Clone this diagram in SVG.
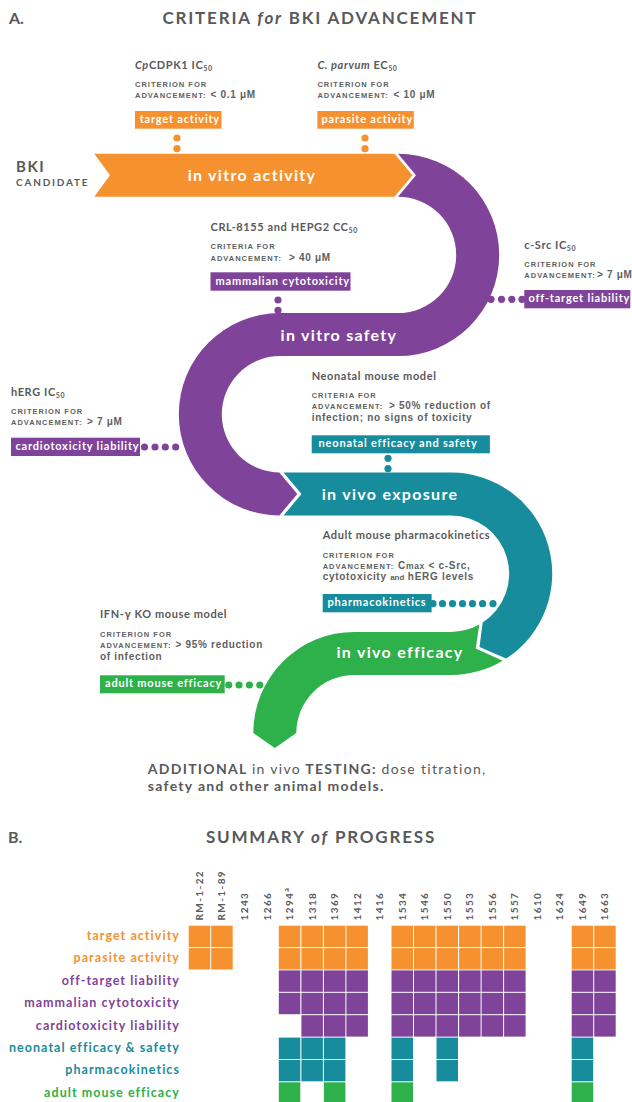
<svg xmlns="http://www.w3.org/2000/svg" xmlns:xlink="http://www.w3.org/1999/xlink" width="632" height="1102" viewBox="0 0 632 1102">
<style>
.t{font-family:Lato,"Open Sans","Liberation Sans",sans-serif;font-weight:bold;fill:#58595B}
.ttl{font-size:17px;letter-spacing:1.8px}
.hd{font-size:11px;letter-spacing:0.6px}
.cr{font-family:"Liberation Sans",Arial,sans-serif;font-weight:bold;font-size:7.5px;letter-spacing:1px;fill:#5E5F61}
.v{font-size:10px;letter-spacing:0.7px}
.lb{font-family:Lato,"Open Sans",sans-serif;font-weight:bold;font-size:11px;letter-spacing:0.8px;fill:#fff}
.bd{font-family:Lato,"Open Sans",sans-serif;font-weight:bold;font-size:16px;letter-spacing:1.3px;fill:#fff;text-anchor:middle}
.cl{font-family:Lato,"Open Sans",sans-serif;font-weight:bold;font-size:10px;letter-spacing:1.4px;fill:#58595B}
.rl{font-family:Lato,"Open Sans",sans-serif;font-weight:bold;font-size:12.5px;letter-spacing:1.05px;text-anchor:end}
.o{fill:#F5922F}.p{fill:#7F4499}.tl{fill:#178C9C}.g{fill:#2EB04B}
</style>
<defs>
<rect id="co" width="21.5" height="21.4" fill="#F5922F"/>
<rect id="cp" width="21.5" height="21.4" fill="#7F4499"/>
<rect id="ct" width="21.5" height="21.4" fill="#178C9C"/>
<rect id="cg" width="21.5" height="21.4" fill="#2EB04B"/>
<circle id="d" r="3.6"/>
</defs>

<text class="t" x="9" y="24" font-size="16">A.</text>
<text class="t ttl" x="320" y="24" text-anchor="middle">CRITERIA <tspan font-style="italic">for</tspan> BKI ADVANCEMENT</text>

<g id="bki-candidate">
<text class="t" x="16" y="172.3" font-size="15" letter-spacing="1.5">BKI</text>
<text class="t" x="16" y="186" font-size="10" letter-spacing="1.8">CANDIDATE</text>
</g>

<g id="n-in-vitro-activity">
<path class="o" d="M94.3,153.7 L394.5,153.7 L412.5,175.2 L394.5,196.7 L94.3,196.7 L110,175.2 Z"/>
<text class="bd" x="252" y="181">in vitro activity</text>
</g>

<g id="n-in-vitro-safety">
<path class="p" d="M398,153.7 A101.2,101.2 0 0 1 398,356.1 L280,356.1 A58.2,58.2 0 0 0 280,472.5 L279.3,472.5 L297.3,494 L279.3,515.5 L280,515.5 A101.2,101.2 0 0 1 280,313.1 L398,313.1 A58.2,58.2 0 0 0 398,196.7 L416,175.2 Z"/>
<text class="bd" x="339" y="340.5">in vitro safety</text>
</g>

<g id="n-in-vivo-exposure">
<path class="tl" d="M283.5,472.5 L451,472.5 A101.2,101.2 0 0 1 506.1,658.6 L479.5,647 L482.7,622.5 A58.2,58.2 0 0 0 451,515.5 L283.5,515.5 L301.5,494 Z"/>
<text class="bd" x="390" y="499.5">in vivo exposure</text>
</g>

<g id="n-in-vivo-efficacy">
<path class="g" d="M502.7,660.8 A101.2,101.2 0 0 1 451,674.9 L354.5,674.9 A58.2,58.2 0 0 0 296.3,733.1 L274.8,748 L253.3,733.1 A101.2,101.2 0 0 1 354.5,631.9 L451,631.9 A58.2,58.2 0 0 0 479.3,624.6 L475.7,648.4 Z"/>
<text class="bd" x="400" y="658">in vivo efficacy</text>
</g>

<g id="connectors">
<g class="o"><use href="#d" x="177" y="138"/><use href="#d" x="177" y="148.7"/><use href="#d" x="365" y="138"/><use href="#d" x="365" y="148.7"/></g>
<g class="p"><use href="#d" x="278" y="300"/><use href="#d" x="278" y="310.3"/>
<use href="#d" x="491" y="299.3"/><use href="#d" x="501.5" y="299.3"/><use href="#d" x="511.8" y="299.3"/><use href="#d" x="522" y="299.3"/>
<use href="#d" x="144.5" y="447"/><use href="#d" x="155" y="447"/><use href="#d" x="165.3" y="447"/><use href="#d" x="175.7" y="447"/></g>
<g class="tl"><use href="#d" x="388" y="458.3"/><use href="#d" x="388" y="468.7"/>
<use href="#d" x="433" y="603.7"/><use href="#d" x="442.5" y="603.7"/><use href="#d" x="452.5" y="603.7"/><use href="#d" x="462.5" y="603.7"/><use href="#d" x="472.5" y="603.7"/><use href="#d" x="482.6" y="603.7"/><use href="#d" x="493" y="603.7"/></g>
<g class="g"><use href="#d" x="228.7" y="685"/><use href="#d" x="239" y="685"/><use href="#d" x="249.4" y="685"/><use href="#d" x="259.8" y="685"/></g>
</g>

<g id="c-target-activity">
<text class="t hd" x="135" y="69.3"><tspan font-style="italic">Cp</tspan>CDPK1 IC<tspan font-size="7" dy="2">50</tspan></text>
<text class="cr" x="135" y="87">CRITERION FOR</text>
<text class="cr" x="135" y="98.3">ADVANCEMENT:</text>
<text class="cr v" x="210.5" y="98.3">&lt; 0.1 μM</text>
<rect class="o" x="135" y="111" width="86.5" height="17.7"/>
<text class="lb" x="139.7" y="122.7">target activity</text>
</g>

<g id="c-parasite-activity">
<text class="t hd" x="317.4" y="69.3"><tspan font-style="italic">C. parvum</tspan> EC<tspan font-size="7" dy="2">50</tspan></text>
<text class="cr" x="317.4" y="87">CRITERION FOR</text>
<text class="cr" x="317.4" y="98.3">ADVANCEMENT:</text>
<text class="cr v" x="393.5" y="98.3">&lt; 10 μM</text>
<rect class="o" x="317.4" y="111" width="96.4" height="17.7"/>
<text class="lb" x="321.5" y="122.7">parasite activity</text>
</g>

<g id="c-mammalian-cytotoxicity">
<text class="t hd" x="210.5" y="230.7">CRL-8155 and HEPG2 CC<tspan font-size="7" dy="2">50</tspan></text>
<text class="cr" x="210.5" y="249">CRITERIA FOR</text>
<text class="cr" x="210.5" y="260.7">ADVANCEMENT:</text>
<text class="cr v" x="289" y="260.7">&gt; 40 μM</text>
<rect class="p" x="210.5" y="272.3" width="140" height="18.4"/>
<text class="lb" x="215.5" y="284.5">mammalian cytotoxicity</text>
</g>

<g id="c-off-target-liability">
<text class="t hd" x="524.3" y="249">c-Src IC<tspan font-size="7" dy="2">50</tspan></text>
<text class="cr" x="524.3" y="266.7">CRITERION FOR</text>
<text class="cr" x="524.3" y="278.3">ADVANCEMENT:</text>
<text class="cr v" x="597" y="278.3" font-size="9.5" letter-spacing="0.2">&gt; 7 μM</text>
<rect class="p" x="524.3" y="290" width="106" height="18.3"/>
<text class="lb" x="528.5" y="302">off-target liability</text>
</g>

<g id="c-cardiotoxicity-liability">
<text class="t hd" x="11" y="395.7">hERG IC<tspan font-size="7" dy="2">50</tspan></text>
<text class="cr" x="11" y="413.7">CRITERION FOR</text>
<text class="cr" x="11" y="425">ADVANCEMENT:</text>
<text class="cr v" x="87" y="425">&gt; 7 μM</text>
<rect class="p" x="11" y="437.7" width="129" height="18.3"/>
<text class="lb" x="15.5" y="449.5">cardiotoxicity liability</text>
</g>

<g id="c-neonatal-efficacy-safety">
<text class="t hd" x="311.7" y="380">Neonatal mouse model</text>
<text class="cr" x="311.7" y="398.3">CRITERIA FOR</text>
<text class="cr" x="311.7" y="409.3">ADVANCEMENT:</text>
<text class="cr v" x="389" y="409.3">&gt; 50% reduction of</text>
<text class="cr v" x="311.7" y="421.3">infection; no signs of toxicity</text>
<rect class="tl" x="311.7" y="435.3" width="178.2" height="18"/>
<text class="lb" x="318.6" y="446.9">neonatal efficacy and safety</text>
</g>

<g id="c-pharmacokinetics">
<text class="t hd" x="322.7" y="539">Adult mouse pharmacokinetics</text>
<text class="cr" x="322.7" y="557.7">CRITERION FOR</text>
<text class="cr" x="322.7" y="568.7">ADVANCEMENT:</text>
<text class="cr v" x="398" y="568.7">C<tspan font-size="8.5">max</tspan> &lt; c-Src,</text>
<text class="cr v" x="322.7" y="580">cytotoxicity <tspan font-size="8" letter-spacing="0">and</tspan> hERG levels</text>
<rect class="tl" x="322.7" y="594" width="108.9" height="18.3"/>
<text class="lb" x="327.5" y="606">pharmacokinetics</text>
</g>

<g id="c-adult-mouse-efficacy">
<text class="t hd" x="100" y="618.3">IFN-γ KO mouse model</text>
<text class="cr" x="100" y="636.7">CRITERION FOR</text>
<text class="cr" x="100" y="648.3">ADVANCEMENT:</text>
<text class="cr v" x="175.5" y="648.3">&gt; 95% reduction</text>
<text class="cr v" x="100" y="659.7">of infection</text>
<rect class="g" x="100" y="675.3" width="124.7" height="18"/>
<text class="lb" x="105" y="687">adult mouse efficacy</text>
</g>

<g id="additional-testing">
<text class="t" x="147.8" y="774.3" font-size="14" letter-spacing="1.3">ADDITIONAL <tspan font-weight="normal">in vivo</tspan> TESTING: <tspan font-weight="normal">dose titration,</tspan></text>
<text class="t" x="147.8" y="790.7" font-size="14" letter-spacing="1.3" font-weight="normal">safety and other animal models.</text>
</g>

<text class="t" x="8" y="843.3" font-size="16">B.</text>
<text class="t ttl" x="321" y="843.3" text-anchor="middle">SUMMARY <tspan font-style="italic">of</tspan> PROGRESS</text>

<g id="column-labels" class="cl">
<text transform="translate(202.9,920.5) rotate(-90)">RM-1-22</text>
<text transform="translate(225.4,920.5) rotate(-90)">RM-1-89</text>
<text transform="translate(248,920.5) rotate(-90)">1243</text>
<text transform="translate(270.5,920.5) rotate(-90)">1266</text>
<text transform="translate(293,920.5) rotate(-90)">1294<tspan font-size="7" dy="-4">a</tspan></text>
<text transform="translate(315.6,920.5) rotate(-90)">1318</text>
<text transform="translate(338.1,920.5) rotate(-90)">1369</text>
<text transform="translate(360.6,920.5) rotate(-90)">1412</text>
<text transform="translate(383.1,920.5) rotate(-90)">1416</text>
<text transform="translate(405.7,920.5) rotate(-90)">1534</text>
<text transform="translate(428.2,920.5) rotate(-90)">1546</text>
<text transform="translate(450.7,920.5) rotate(-90)">1550</text>
<text transform="translate(473.3,920.5) rotate(-90)">1553</text>
<text transform="translate(495.8,920.5) rotate(-90)">1556</text>
<text transform="translate(518.3,920.5) rotate(-90)">1557</text>
<text transform="translate(540.9,920.5) rotate(-90)">1610</text>
<text transform="translate(563.4,920.5) rotate(-90)">1624</text>
<text transform="translate(585.9,920.5) rotate(-90)">1649</text>
<text transform="translate(608.4,920.5) rotate(-90)">1663</text>
</g>

<g id="row-labels">
<text class="rl o" x="180" y="940">target activity</text>
<text class="rl o" x="180" y="962.4">parasite activity</text>
<text class="rl p" x="180" y="984.8">off-target liability</text>
<text class="rl p" x="180" y="1007.1">mammalian cytotoxicity</text>
<text class="rl p" x="180" y="1029.5">cardiotoxicity liability</text>
<text class="rl tl" x="180" y="1051.9">neonatal efficacy &amp; safety</text>
<text class="rl tl" x="180" y="1074.2">pharmacokinetics</text>
<text class="rl g" x="180" y="1096.6">adult mouse efficacy</text>
</g>

<g id="grid">
<g id="row-target">
<use href="#co" x="188.7" y="925.7"/><use href="#co" x="211.2" y="925.7"/><use href="#co" x="278.8" y="925.7"/><use href="#co" x="301.4" y="925.7"/><use href="#co" x="323.9" y="925.7"/><use href="#co" x="346.4" y="925.7"/><use href="#co" x="391.5" y="925.7"/><use href="#co" x="414" y="925.7"/><use href="#co" x="436.5" y="925.7"/><use href="#co" x="459.1" y="925.7"/><use href="#co" x="481.6" y="925.7"/><use href="#co" x="504.1" y="925.7"/><use href="#co" x="571.7" y="925.7"/><use href="#co" x="594.2" y="925.7"/>
</g>
<g id="row-parasite">
<use href="#co" x="188.7" y="948.1"/><use href="#co" x="211.2" y="948.1"/><use href="#co" x="278.8" y="948.1"/><use href="#co" x="301.4" y="948.1"/><use href="#co" x="323.9" y="948.1"/><use href="#co" x="346.4" y="948.1"/><use href="#co" x="391.5" y="948.1"/><use href="#co" x="414" y="948.1"/><use href="#co" x="436.5" y="948.1"/><use href="#co" x="459.1" y="948.1"/><use href="#co" x="481.6" y="948.1"/><use href="#co" x="504.1" y="948.1"/><use href="#co" x="571.7" y="948.1"/><use href="#co" x="594.2" y="948.1"/>
</g>
<g id="row-offtarget">
<use href="#cp" x="278.8" y="970.4"/><use href="#cp" x="301.4" y="970.4"/><use href="#cp" x="323.9" y="970.4"/><use href="#cp" x="346.4" y="970.4"/><use href="#cp" x="391.5" y="970.4"/><use href="#cp" x="414" y="970.4"/><use href="#cp" x="436.5" y="970.4"/><use href="#cp" x="459.1" y="970.4"/><use href="#cp" x="481.6" y="970.4"/><use href="#cp" x="504.1" y="970.4"/><use href="#cp" x="571.7" y="970.4"/><use href="#cp" x="594.2" y="970.4"/>
</g>
<g id="row-mammalian">
<use href="#cp" x="278.8" y="992.8"/><use href="#cp" x="301.4" y="992.8"/><use href="#cp" x="323.9" y="992.8"/><use href="#cp" x="346.4" y="992.8"/><use href="#cp" x="391.5" y="992.8"/><use href="#cp" x="414" y="992.8"/><use href="#cp" x="436.5" y="992.8"/><use href="#cp" x="459.1" y="992.8"/><use href="#cp" x="481.6" y="992.8"/><use href="#cp" x="504.1" y="992.8"/><use href="#cp" x="571.7" y="992.8"/><use href="#cp" x="594.2" y="992.8"/>
</g>
<g id="row-cardio">
<use href="#cp" x="301.4" y="1015.2"/><use href="#cp" x="323.9" y="1015.2"/><use href="#cp" x="346.4" y="1015.2"/><use href="#cp" x="391.5" y="1015.2"/><use href="#cp" x="414" y="1015.2"/><use href="#cp" x="436.5" y="1015.2"/><use href="#cp" x="459.1" y="1015.2"/><use href="#cp" x="481.6" y="1015.2"/><use href="#cp" x="504.1" y="1015.2"/><use href="#cp" x="571.7" y="1015.2"/><use href="#cp" x="594.2" y="1015.2"/>
</g>
<g id="row-neonatal">
<use href="#ct" x="278.8" y="1037.6"/><use href="#ct" x="301.4" y="1037.6"/><use href="#ct" x="323.9" y="1037.6"/><use href="#ct" x="391.5" y="1037.6"/><use href="#ct" x="436.5" y="1037.6"/><use href="#ct" x="571.7" y="1037.6"/>
</g>
<g id="row-pk">
<use href="#ct" x="278.8" y="1059.9"/><use href="#ct" x="301.4" y="1059.9"/><use href="#ct" x="323.9" y="1059.9"/><use href="#ct" x="391.5" y="1059.9"/><use href="#ct" x="436.5" y="1059.9"/><use href="#ct" x="571.7" y="1059.9"/>
</g>
<g id="row-adult">
<use href="#cg" x="278.8" y="1082.3"/><use href="#cg" x="323.9" y="1082.3"/><use href="#cg" x="391.5" y="1082.3"/><use href="#cg" x="571.7" y="1082.3"/>
</g>
</g>
</svg>
